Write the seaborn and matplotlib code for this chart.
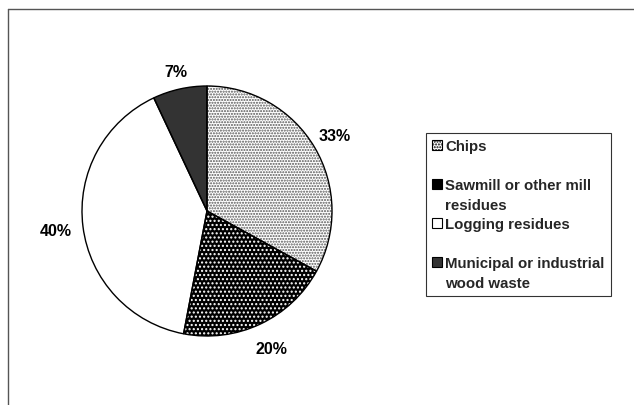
import matplotlib
matplotlib.use("Agg")
import numpy as np
import matplotlib.pyplot as plt
import seaborn as sns
from matplotlib.patches import Patch
from matplotlib.lines import Line2D

categories = ["Chips", "Sawmill or other mill residues", "Logging residues",
              "Municipal or industrial wood waste"]
legend_lines = [["Chips", ""], ["Sawmill or other mill", "residues"],
                ["Logging residues", ""], ["Municipal or industrial", "wood waste"]]
values = [33, 20, 40, 7]

face_colors = ["white", "black", "white", "#333333"]
hatch_colors = ["#555555", "white", "white", "#333333"]
hatches = ["......", "....", None, None]
label_dist = [1.19, 1.22, 1.22, 1.14]

sns.set_style("white")
plt.rcParams["font.family"] = ["Liberation Sans", "DejaVu Sans"]
plt.rcParams["hatch.linewidth"] = 1.0

fig = plt.figure(figsize=(6.34, 4.06), dpi=100)
ax = fig.add_axes([57 / 634, 44 / 406, 300 / 634, 300 / 406])

wedges, texts, autotexts = ax.pie(
    values, startangle=90, counterclock=False, colors=face_colors,
    autopct=lambda p: f"{p:.0f}%", pctdistance=1.2,
    textprops=dict(fontsize=11.5, fontweight="bold", color="black"),
    wedgeprops=dict(linewidth=0))
for w, h, hc, t, d in zip(wedges, hatches, hatch_colors, autotexts, label_dist):
    if h:
        w.set_hatch(h)
        w.set_edgecolor(hc)
        w.set_linewidth(0)
    mid = np.deg2rad((w.theta1 + w.theta2) / 2)
    t.set_position((d * np.cos(mid), d * np.sin(mid)))
# outline
ax.pie(values, startangle=90, counterclock=False,
       wedgeprops=dict(fill=False, edgecolor="black", linewidth=1.0))
ax.set_xlim(-1.2, 1.2)
ax.set_ylim(-1.2, 1.2)
ax.set_aspect("equal")
ax.axis("off")

# legend: one row per text line
handles, labels = [], []
for i, lines in enumerate(legend_lines):
    for j, ln in enumerate(lines):
        if j == 0:
            handles.append(Patch(facecolor=face_colors[i], edgecolor="black",
                                 hatch=hatches[i], linewidth=0.8))
        else:
            handles.append(Patch(facecolor="none", edgecolor="none"))
        labels.append(ln)

leg = fig.legend(handles, labels, loc="upper left",
                 bbox_to_anchor=(426 / 634, 1 - 134 / 406),
                 frameon=True, fancybox=False, edgecolor="black",
                 prop=dict(size=10.8, weight="bold"),
                 handlelength=0.69, handleheight=0.69, handletextpad=0.2,
                 labelspacing=0.37, borderpad=0.4, borderaxespad=0)
leg.get_frame().set_linewidth(0.8)

# figure border (top and left)
fig.add_artist(Line2D([8 / 634, 1], [1 - 10 / 406, 1 - 10 / 406],
                      transform=fig.transFigure, color="#555555", lw=1))
fig.add_artist(Line2D([8 / 634, 8 / 634], [0, 1 - 10 / 406],
                      transform=fig.transFigure, color="#555555", lw=1))

fig.savefig("out.png", dpi=100)
